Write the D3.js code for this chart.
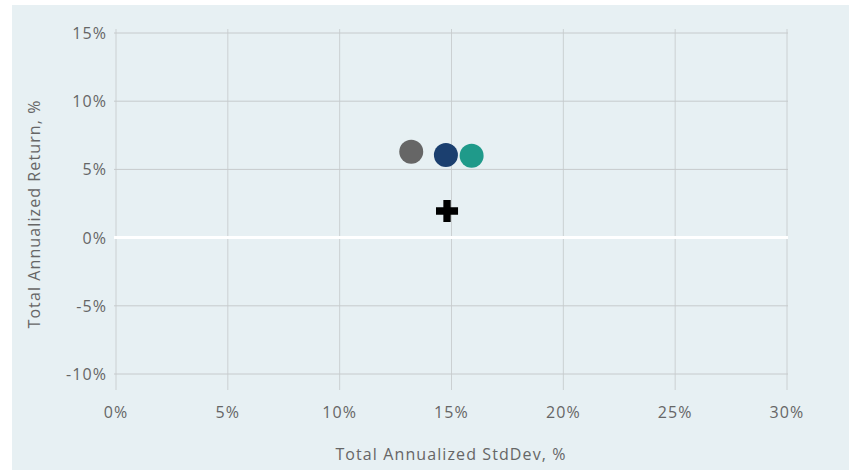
<!DOCTYPE html>
<html>
<head>
<meta charset="utf-8">
<script src="https://cdn.jsdelivr.net/npm/d3@7"></script>
<style>
  body { margin: 0; background: #fff; }
  svg text { font-family: "Open Sans", sans-serif; fill: #666; letter-spacing: 1.1px; }
</style>
</head>
<body>
<svg id="chart" width="849" height="470"></svg>
<script>
// risk / return points (percent)
const names = ["Fund A", "Fund B", "Fund C", "Benchmark"];
const stdDev = [13.2, 14.75, 15.9, 14.8];
const returns = [6.3, 6.05, 6.0, 1.95];
const colors = ["#666666", "#1b3f6f", "#1f9a8a", "#000000"];
const shapes = ["circle", "circle", "circle", "cross"];

const xTicks = [0, 5, 10, 15, 20, 25, 30];
const yTicks = [-10, -5, 0, 5, 10, 15];

const svg = d3.select("#chart");

// panel background
svg.append("rect")
  .attr("x", 12).attr("y", 5)
  .attr("width", 849 - 12).attr("height", 470 - 5)
  .attr("fill", "#e7f0f3");

const x = d3.scaleLinear().domain([0, 30]).range([116, 787]);
const y = d3.scaleLinear().domain([-10, 15]).range([374, 33]);

// gridlines
svg.append("g")
  .selectAll("line")
  .data(xTicks)
  .join("line")
  .attr("x1", (d) => x(d)).attr("x2", (d) => x(d))
  .attr("y1", 29).attr("y2", 390)
  .attr("stroke", "#cbd0d2").attr("stroke-width", 1);

svg.append("g")
  .selectAll("line")
  .data(yTicks)
  .join("line")
  .attr("x1", 114).attr("x2", 788)
  .attr("y1", (d) => y(d)).attr("y2", (d) => y(d))
  .attr("stroke", (d) => (d === 0 ? "#ffffff" : "#c6cacc"))
  .attr("stroke-width", (d) => (d === 0 ? 3 : 1));

// tick labels
svg.append("g")
  .selectAll("text")
  .data(xTicks)
  .join("text")
  .attr("x", (d) => x(d)).attr("y", 418)
  .attr("text-anchor", "middle")
  .attr("font-size", 16)
  .text((d) => d + "%");

svg.append("g")
  .selectAll("text")
  .data(yTicks)
  .join("text")
  .attr("x", 107).attr("y", (d) => y(d) + 6)
  .attr("text-anchor", "end")
  .attr("font-size", 16)
  .text((d) => d + "%");

// axis titles
svg.append("text")
  .attr("x", 451).attr("y", 460)
  .attr("text-anchor", "middle")
  .attr("font-size", 16)
  .text("Total Annualized StdDev, %");

svg.append("text")
  .attr("transform", "translate(40,214) rotate(-90)")
  .attr("text-anchor", "middle")
  .attr("font-size", 16)
  .text("Total Annualized Return, %");

// points
const pts = names.map((n, i) => ({
  name: n, sd: stdDev[i], ret: returns[i], color: colors[i], shape: shapes[i]
}));

const sym = { circle: d3.symbolCircle, cross: d3.symbolCross };
const sizes = { circle: Math.PI * 12 * 12, cross: 270 };

svg.append("g")
  .selectAll("path")
  .data(pts)
  .join("path")
  .attr("transform", (d) => `translate(${x(d.sd)},${y(d.ret)})`)
  .attr("d", (d) => d3.symbol().type(sym[d.shape]).size(sizes[d.shape])())
  .attr("fill", (d) => d.color)
  .append("title")
  .text((d) => d.name);
</script>
</body>
</html>
